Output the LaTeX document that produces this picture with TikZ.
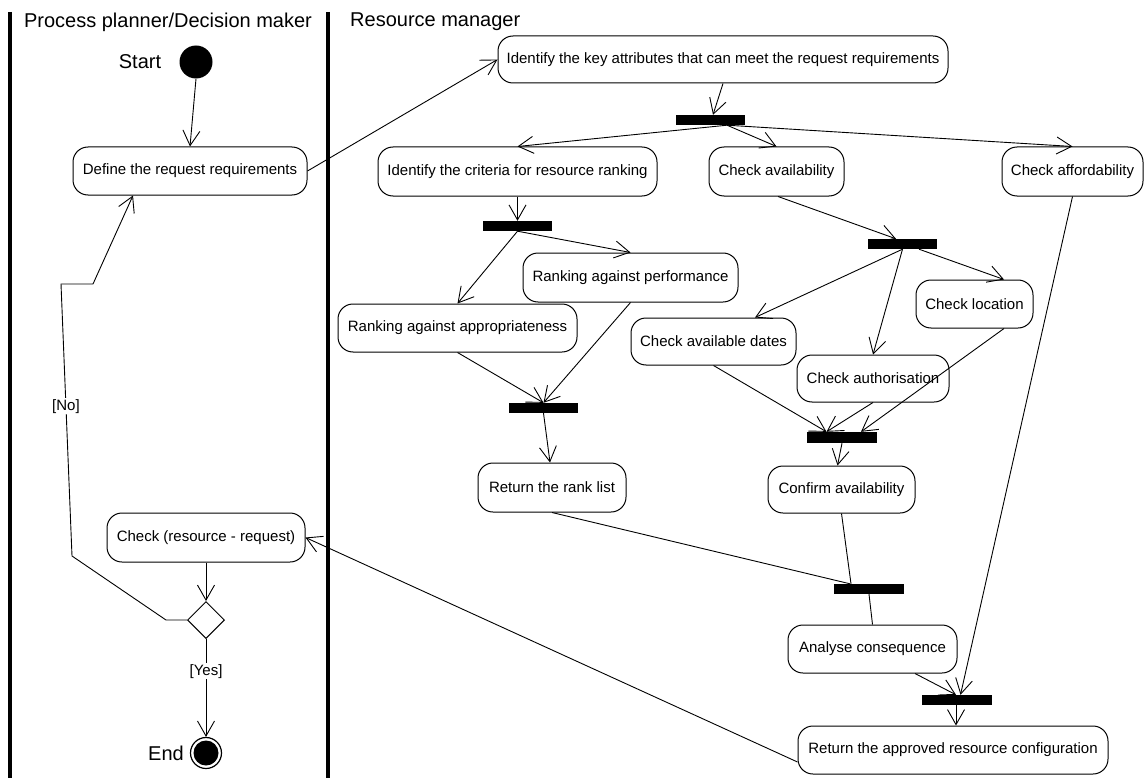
\documentclass[tikz,border=0pt]{standalone}
\usepackage{fontspec}
\setmainfont{Liberation Sans}
\usetikzlibrary{arrows.meta,shapes.geometric,calc}
\begin{document}
\begin{tikzpicture}[x=1pt,y=-1pt,
  act/.style={draw, rounded corners=15pt, line width=1pt, inner sep=0pt,
    font=\fontsize{15}{18}\selectfont, align=center},
  bar/.style={fill=black, inner sep=0pt, minimum width=69pt, minimum height=10pt},
  flow/.style={line width=0.9pt},
  arr/.style={flow, -{Straight Barb[length=15pt,width=17pt]}},
  lane/.style={line width=4pt},
  title/.style={font=\fontsize{20}{24}\selectfont, inner sep=0pt},
  guard/.style={fill=white, inner sep=1pt, font=\fontsize{15}{18}\selectfont}
]
\useasboundingbox (0,0) rectangle (1147,778);

% swimlanes
\draw[lane] (10,12) -- (10,778);
\draw[lane] (328,12) -- (328,778);
\node[title] (lane1) at (168,22) {Process planner/Decision maker};
\node[title, anchor=west] (lane2) at (350,22) {Resource manager};

% start / end
\node[circle, fill=black, minimum size=33pt, inner sep=0pt] (start) at (196,62) {};
\node[title] (startlbl) at (140,62) {Start};
\node[circle, draw, line width=1.2pt, minimum size=31pt, inner sep=0pt] (end) at (206,753) {};
\fill (end.center) circle (12.5);
\node[title] (endlbl) at (166,753) {End};

% activities
\node[act, minimum width=234pt, minimum height=48pt] (define) at (190,171) {Define the request requirements};
\node[act, minimum width=450pt, minimum height=47pt] (key) at (723,59.5) {Identify the key attributes that can meet the request requirements};
\node[act, minimum width=279pt, minimum height=49pt] (criteria) at (517.5,171.5) {Identify the criteria for resource ranking};
\node[act, minimum width=135pt, minimum height=49pt] (avail) at (776.5,171.5) {Check availability};
\node[act, minimum width=141pt, minimum height=49pt] (afford) at (1072.5,171.5) {Check affordability};
\node[act, minimum width=215pt, minimum height=49pt] (perf) at (630.5,277.5) {Ranking against performance};
\node[act, minimum width=239pt, minimum height=48pt] (approp) at (457.5,328) {Ranking against appropriateness};
\node[act, minimum width=148pt, minimum height=49pt] (ranklist) at (552,487.5) {Return the rank list};
\node[act, minimum width=117pt, minimum height=48pt] (location) at (974.5,304) {Check location};
\node[act, minimum width=165pt, minimum height=47pt] (dates) at (713.5,341.5) {Check available dates};
\node[act, minimum width=152pt, minimum height=47pt] (auth) at (873,378.5) {Check authorisation};
\node[act, minimum width=147pt, minimum height=47pt] (confirm) at (841.5,489.5) {Confirm availability};
\node[act, minimum width=169pt, minimum height=48pt] (analyse) at (872.5,649) {Analyse consequence};
\node[act, minimum width=310pt, minimum height=48pt] (approved) at (953,750) {Return the approved resource configuration};
\node[act, minimum width=198pt, minimum height=49pt] (check) at (206,537.5) {Check (resource - request)};
\node[diamond, draw, line width=1pt, minimum width=37pt, minimum height=37pt, inner sep=0pt] (dec) at (206,620) {};

% fork / join bars
\node[bar] (bar1) at (710.5,120) {};
\node[bar] (bar2) at (517.5,226) {};
\node[bar] (bar3) at (543.5,408) {};
\node[bar] (bar4) at (902.5,244) {};
\node[bar, minimum width=70pt, minimum height=11pt] (bar5) at (842,437.5) {};
\node[bar, minimum width=70pt] (bar6) at (869,589) {};
\node[bar, minimum width=70pt] (bar7) at (957,700) {};

% connectors
\draw[arr] (start.south) -- (define.north);
\draw[arr] (define.east) -- (key.west);
\draw[arr] (key.south) -- ([xshift=2.5pt]bar1.north);
\draw[arr] ([xshift=16.5pt]bar1.south) -- (criteria.north);
\draw[arr] ([xshift=16.5pt]bar1.south) -- (avail.north);
\draw[arr] ([xshift=16.5pt]bar1.south) -- (afford.north);
\draw[arr] (criteria.south) -- (bar2.north);
\draw[arr] (bar2.south) -- (approp.north);
\draw[arr] (bar2.south) -- (perf.north);
\draw[arr] (approp.south) -- (bar3.north);
\draw[arr] (perf.south) -- (bar3.north);
\draw[arr] (bar3.south) -- ([xshift=-2pt]ranklist.north);
\draw[arr] ([xshift=1.5pt]avail.south) -- ([xshift=-6.5pt]bar4.north);
\draw[arr] (bar4.south) -- ([xshift=41.5pt]dates.north);
\draw[arr] (bar4.south) -- (auth.north);
\draw[arr] ([xshift=16.5pt]bar4.south) -- ([xshift=29.5pt]location.north);
\draw[arr] (dates.south) -- ([xshift=-15.5pt]bar5.north);
\draw[arr] (auth.south) -- ([xshift=-15.5pt]bar5.north);
\draw[arr] ([xshift=29.5pt]location.south) -- ([xshift=19pt]bar5.north);
\draw[arr] (bar5.south) -- ([xshift=-4pt]confirm.north);
\draw[flow] (ranklist.south) -- ([xshift=-19pt]bar6.north);
\draw[flow] (confirm.south) -- ([xshift=-18pt]bar6.north);
\draw[flow] (bar6.south) -- (analyse.north);
\draw[arr] ([xshift=42.5pt]analyse.south) -- ([xshift=-1pt]bar7.north);
\draw[arr] (afford.south) -- ([xshift=3.5pt]bar7.north);
\draw[arr] ([xshift=-1pt]bar7.south) -- ([xshift=3pt]approved.north);
\draw[arr] ([yshift=-12pt]approved.west) -- (check.east);
\draw[arr] (check.south) -- (dec.north);
\draw[arr] (dec.west) -- (166,620) -- (72,556)
  -- node[guard, pos=0.55] (nolbl) {[No]} (61,284) -- (93,284) -- ([xshift=-57pt]define.south);
\draw[arr] (dec.south) -- node[guard, pos=0.33] (yeslbl) {[Yes]} (end.north);
\end{tikzpicture}
\end{document}
